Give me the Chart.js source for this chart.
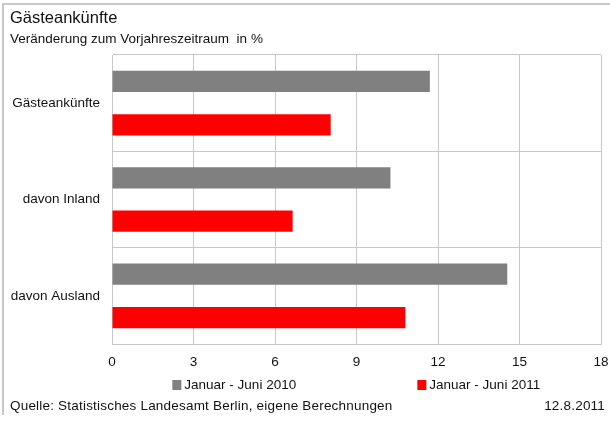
<!DOCTYPE html>
<html>
<head>
<meta charset="utf-8">
<script src="https://cdn.jsdelivr.net/npm/chart.js@4/dist/chart.umd.min.js"></script>
<style>
  body { margin: 0; background: #fff; }
  #wrap { position: relative; width: 610px; height: 421px; }
  #frame { position: absolute; left: 2px; top: 3px; width: 608px; height: 410px;
    border-top: 2px solid #c8c8c8; border-left: 2px solid #c8c8c8; pointer-events: none; }
</style>
</head>
<body>
<div id="wrap">
  <canvas id="chart" width="610" height="421"></canvas>
  <div id="frame"></div>
</div>
<script>
const categories = ["Gästeankünfte", "davon Inland", "davon Ausland"];
const values2010 = [11.7, 10.25, 14.55];
const values2011 = [8.05, 6.65, 10.8];
const seriesNames = ["Januar - Juni 2010", "Januar - Juni 2011"];
const xTicks = [0, 3, 6, 9, 12, 15, 18];
const sourceText = "Quelle: Statistisches Landesamt Berlin, eigene Berechnungen";
const dateText = "12.8.2011";

const font = "'Liberation Sans', Arial, sans-serif";
const textColor = "#111";

// legend + footer under the plot
const footerPlugin = {
  id: "footer",
  afterDraw(chart) {
    const ctx = chart.ctx;
    const area = chart.chartArea;
    ctx.save();
    ctx.font = "13.5px " + font;
    ctx.fillStyle = textColor;
    ctx.textBaseline = "middle";
    chart.data.datasets.forEach((ds, i) => {
      const label = ds.label;
      const w = 9 + 3 + ctx.measureText(label).width;
      const cx = area.left + area.width * (i === 0 ? 0.25 : 0.75);
      const x0 = cx - w / 2;
      ctx.fillStyle = ds.backgroundColor;
      ctx.fillRect(x0, 380, 9, 10);
      ctx.fillStyle = textColor;
      ctx.textAlign = "left";
      ctx.fillText(label, x0 + 12, 385);
    });
    ctx.letterSpacing = "0.2px";
    ctx.textAlign = "left";
    ctx.fillText(sourceText, 10, 406);
    ctx.textAlign = "right";
    ctx.fillText(dateText, 605, 406);
    ctx.restore();
  }
};

new Chart(document.getElementById("chart"), {
  type: "bar",
  data: {
    labels: categories,
    datasets: [
      { label: seriesNames[0], data: values2010, backgroundColor: "#808080",
        categoryPercentage: 0.9, barPercentage: 0.49 },
      { label: seriesNames[1], data: values2011, backgroundColor: "#ff0000",
        categoryPercentage: 0.9, barPercentage: 0.49 }
    ]
  },
  options: {
    indexAxis: "y",
    responsive: false,
    animation: false,
    layout: { padding: { top: 0, left: 10, right: 9, bottom: 50 } },
    plugins: {
      legend: { display: false },
      tooltip: { enabled: false },
      title: {
        display: true, text: "Gästeankünfte", align: "start",
        color: textColor, font: { family: font, size: 16.5, weight: "normal" },
        padding: { top: 9, bottom: 2 }
      },
      subtitle: {
        display: true, text: "Veränderung zum Vorjahreszeitraum  in %", align: "start",
        color: textColor, font: { family: font, size: 13.5 },
        padding: { top: 0, bottom: 8 }
      }
    },
    scales: {
      x: {
        min: 0, max: 18,
        afterBuildTicks(scale) { scale.ticks = xTicks.map(v => ({ value: v })); },
        afterFit(scale) { scale.height = 27; scale.paddingRight = 0; scale.paddingLeft = 0; },
        ticks: { color: textColor, font: { family: font, size: 13.5 }, padding: 10 },
        grid: { color: "#c8c8c8", drawTicks: false },
        border: { color: "#c8c8c8" }
      },
      y: {
        afterFit(scale) { scale.width = 102; },
        ticks: { color: textColor, font: { family: font, size: 13.5 }, padding: 12 },
        grid: { color: "#c8c8c8", drawTicks: false, offset: true },
        border: { color: "#c8c8c8" }
      }
    }
  },
  plugins: [footerPlugin]
});
</script>
</body>
</html>
